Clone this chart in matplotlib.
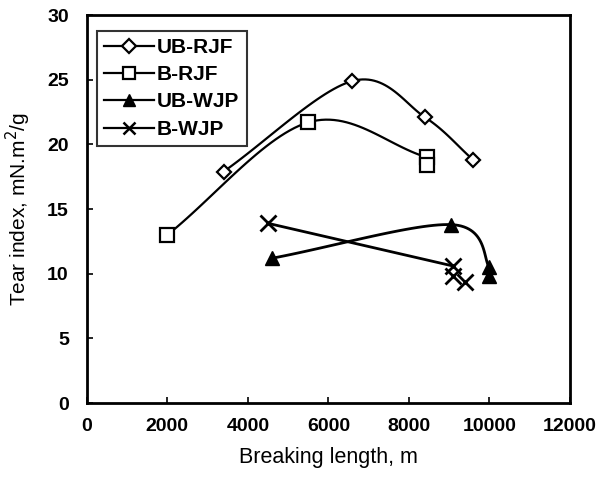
import numpy as np
import matplotlib
matplotlib.use("Agg")
import matplotlib.pyplot as plt

plt.rcParams['font.family'] = ['Liberation Sans', 'DejaVu Sans']

# data
ub_rjf_x = [3400, 6600, 8400, 9600]
ub_rjf_y = [17.9, 24.9, 22.1, 18.8]
b_rjf_x = [2000, 5500, 8450, 8450]
b_rjf_y = [13.0, 21.7, 19.0, 18.4]
ub_wjp_x = [4600, 9050, 10000, 10000]
ub_wjp_y = [11.2, 13.8, 10.5, 9.8]
b_wjp_x = [4500, 9100, 9100, 9400]
b_wjp_y = [13.9, 10.6, 9.8, 9.4]

xticks = [0, 2000, 4000, 6000, 8000, 10000, 12000]
yticks = [0, 5, 10, 15, 20, 25, 30]


def smooth(x, y, n=30):
    # catmull-rom style smoothing like the spreadsheet "smoothed line"
    x = np.asarray(x, float)
    y = np.asarray(y, float)
    px = np.concatenate([[2 * x[0] - x[1]], x, [2 * x[-1] - x[-2]]])
    py = np.concatenate([[2 * y[0] - y[1]], y, [2 * y[-1] - y[-2]]])
    xs, ys = [], []
    t = np.linspace(0, 1, n)
    for i in range(1, len(px) - 2):
        for arr, out in ((px, xs), (py, ys)):
            p0, p1, p2, p3 = arr[i - 1], arr[i], arr[i + 1], arr[i + 2]
            out.extend(0.5 * ((2 * p1) + (-p0 + p2) * t
                              + (2 * p0 - 5 * p1 + 4 * p2 - p3) * t ** 2
                              + (-p0 + 3 * p1 - 3 * p2 + p3) * t ** 3))
    return xs, ys


fig = plt.figure(figsize=(6.16, 4.84), dpi=100)
ax = fig.add_axes([0.141, 0.167, 0.784, 0.802])

lw = 1.6
ax.plot(*smooth(ub_rjf_x, ub_rjf_y), color='black', lw=lw)
ax.plot(ub_rjf_x, ub_rjf_y, ls='none', marker='D', ms=7, mfc='white',
        mec='black', mew=1.6)
ax.plot(*smooth(b_rjf_x[:3], b_rjf_y[:3]), color='black', lw=lw)
ax.plot(b_rjf_x, b_rjf_y, ls='none', marker='s', ms=10, mfc='white',
        mec='black', mew=1.6)
ax.plot(*smooth(ub_wjp_x, ub_wjp_y), color='black', lw=2)
ax.plot(ub_wjp_x, ub_wjp_y, ls='none', marker='^', ms=10, color='black')
ax.plot(b_wjp_x[:2], b_wjp_y[:2], color='black', lw=2)
ax.plot(b_wjp_x, b_wjp_y, ls='none', marker='x', ms=11, mew=2,
        color='black')

# legend proxies
h1, = ax.plot([], [], color='black', lw=lw, marker='D', ms=7, mfc='white',
              mec='black', mew=1.6)
h2, = ax.plot([], [], color='black', lw=lw, marker='s', ms=9, mfc='white',
              mec='black', mew=1.6)
h3, = ax.plot([], [], color='black', lw=lw, marker='^', ms=9)
h4, = ax.plot([], [], color='black', lw=lw, marker='x', ms=9, mew=1.8)
leg = ax.legend([h1, h2, h3, h4], ['UB-RJF', 'B-RJF', 'UB-WJP', 'B-WJP'],
                loc='upper left', bbox_to_anchor=(0.02, 0.96),
                fontsize=15, frameon=True, fancybox=False,
                edgecolor='black', handlelength=2.4, handletextpad=0.15,
                labelspacing=0.4, borderpad=0.35, borderaxespad=0)
leg.get_frame().set_linewidth(1.5)
for t in leg.get_texts():
    t.set_fontweight('bold')

ax.set_xlim(0, 12000)
ax.set_ylim(0, 30)
ax.set_xticks(xticks)
ax.set_yticks(yticks)
ax.tick_params(direction='in', length=4, width=1.2, labelsize=14)
ax.tick_params(axis='x', pad=11)
ax.tick_params(axis='y', pad=13)
for lab in ax.get_xticklabels() + ax.get_yticklabels():
    lab.set_fontweight('bold')
for s in ax.spines.values():
    s.set_linewidth(2)

ax.set_xlabel('Breaking length, m', fontsize=15.5)
ax.set_ylabel('Tear index, mN.m$^2$/g', fontsize=15)
ax.xaxis.set_label_coords(0.5, -0.112)
ax.yaxis.set_label_coords(-0.112, 0.5)

fig.savefig('out.png', dpi=100)
